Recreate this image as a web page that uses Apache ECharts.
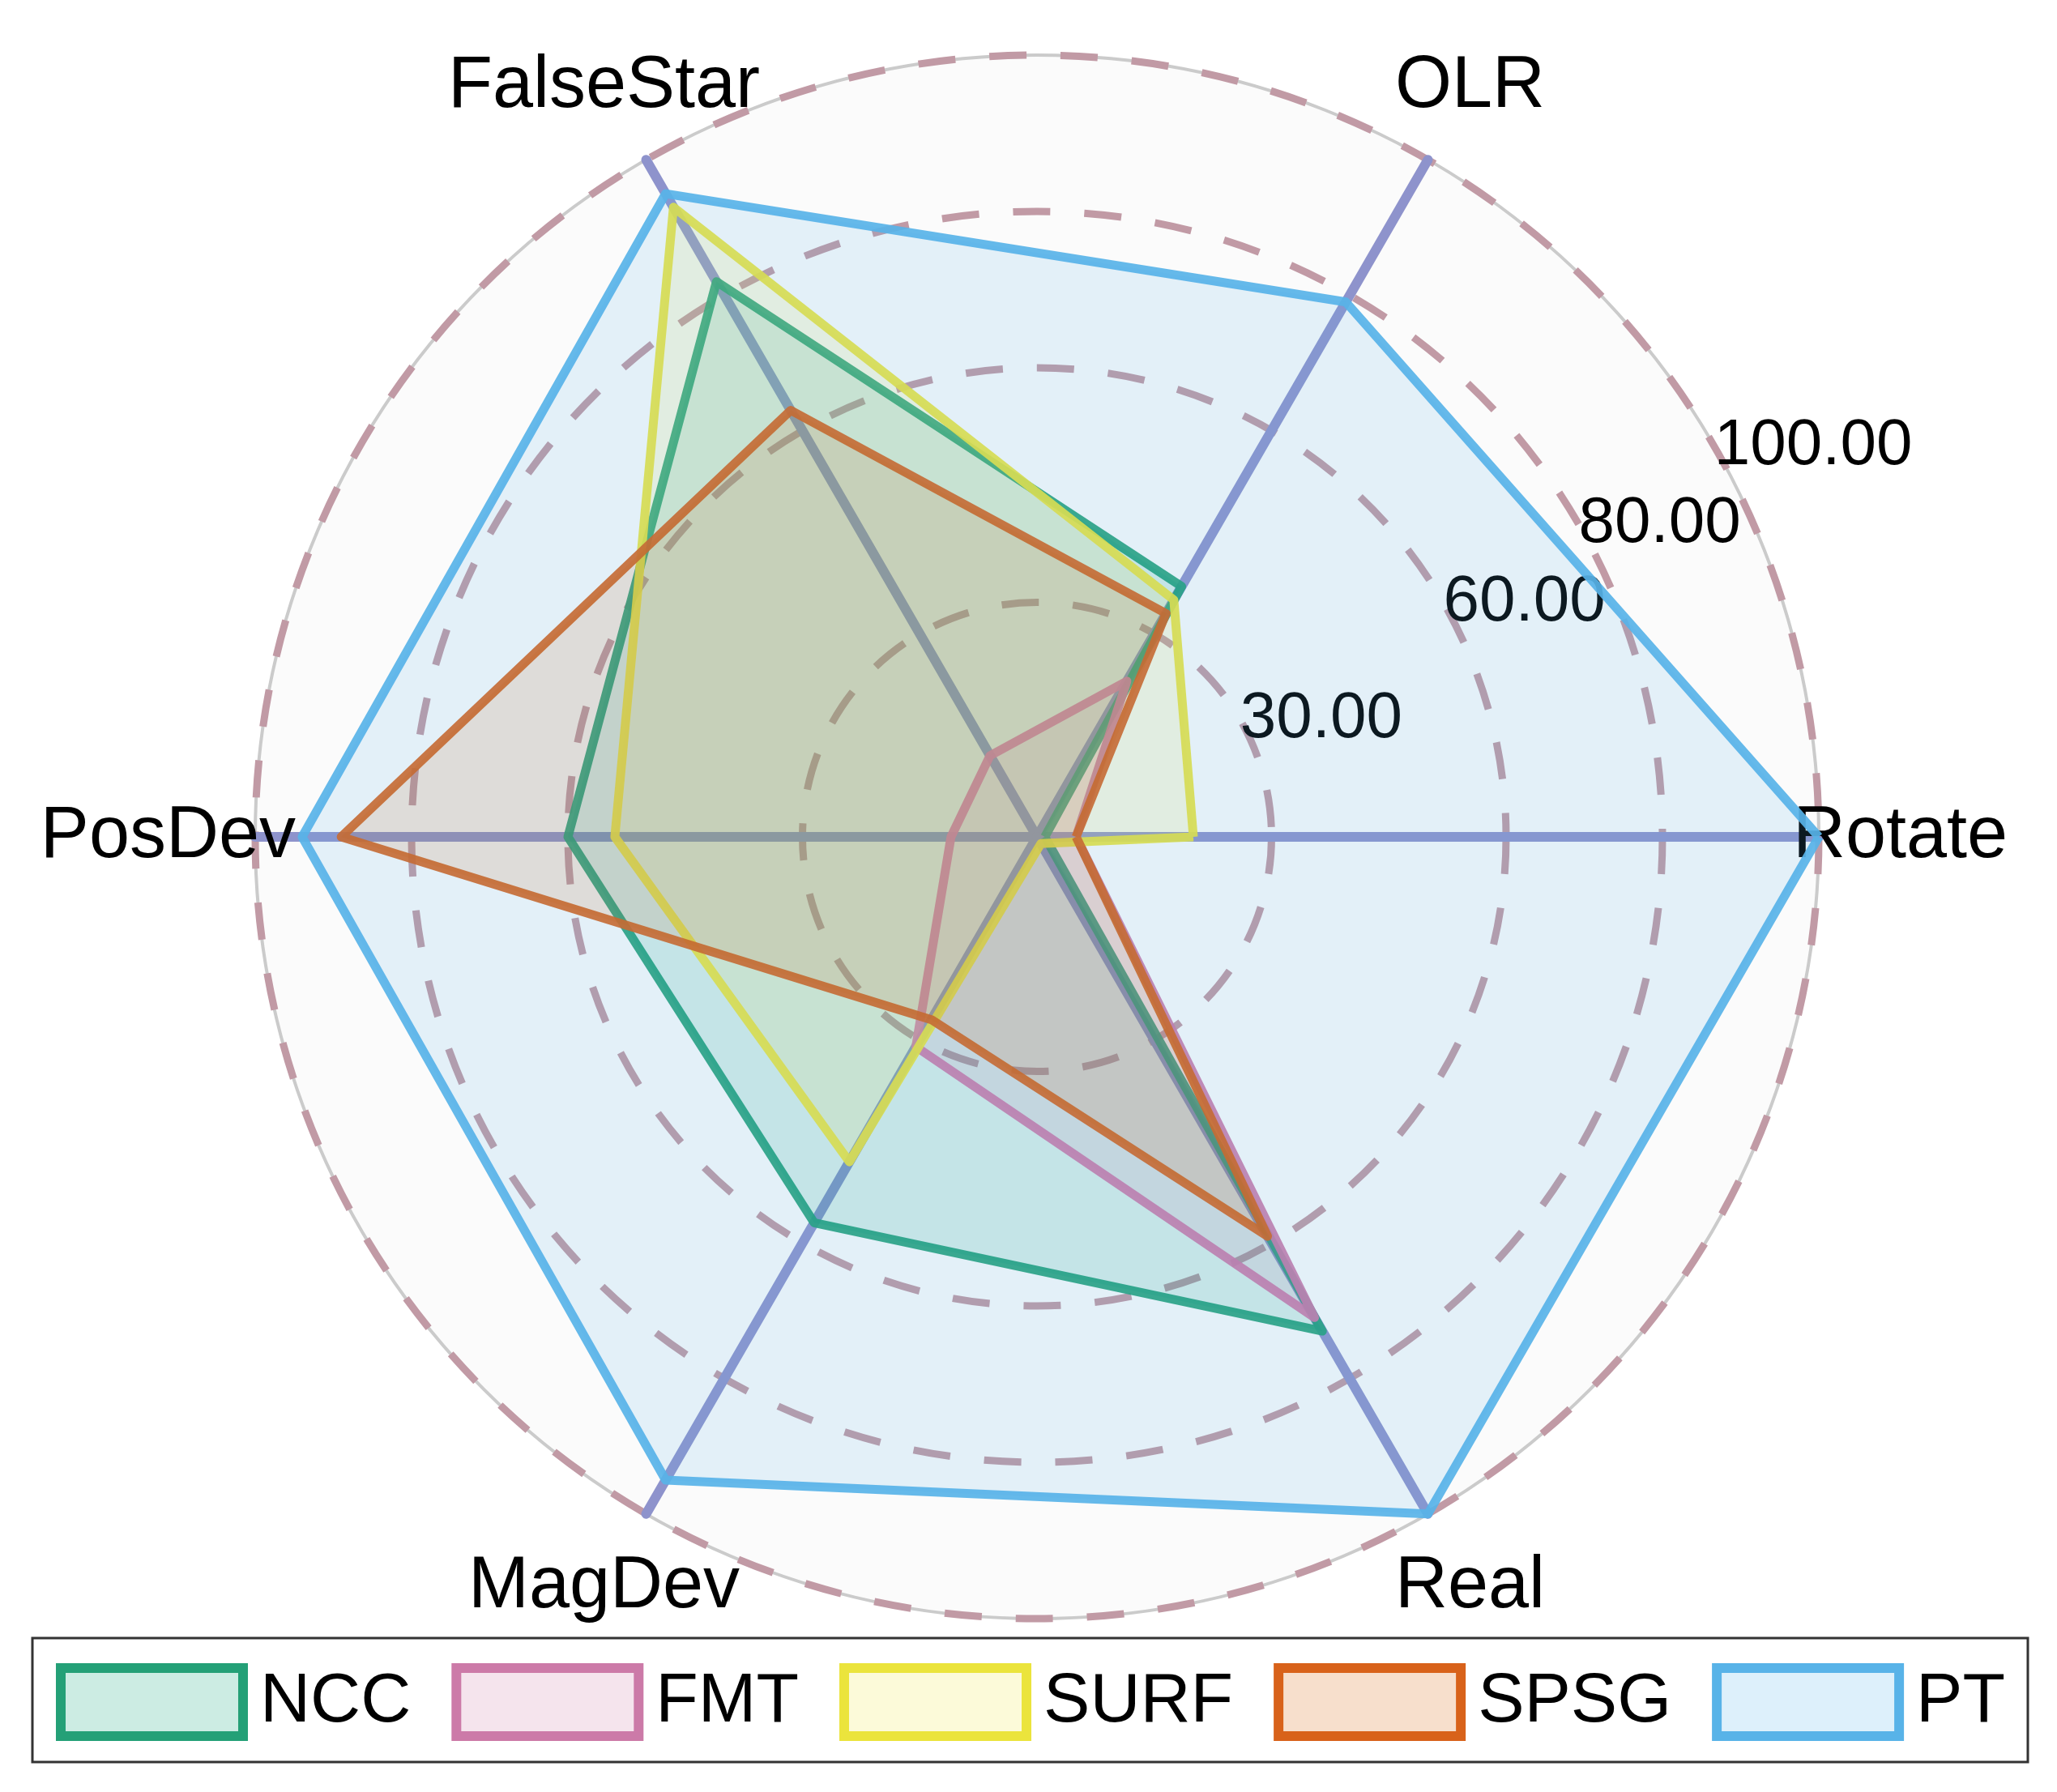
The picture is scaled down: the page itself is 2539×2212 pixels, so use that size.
<!DOCTYPE html>
<html>
<head>
<meta charset="utf-8">
<script src="https://cdn.jsdelivr.net/npm/echarts@6/dist/echarts.min.js"></script>
<style>
html,body{margin:0;padding:0;background:#fff;}
#chart{width:2539px;height:2212px;}
</style>
</head>
<body>
<div id="chart"></div>
<script>
// ---- data ----
const indicators = ['Rotate', 'OLR', 'FalseStar', 'PosDev', 'MagDev', 'Real'];
const seriesNames = ['NCC', 'FMT', 'SURF', 'SPSG', 'PT'];
const NCC  = [1, 37, 82, 60, 57, 73];
const FMT  = [5, 23, 12, 11, 31, 71];
const SURF = [20, 35, 93, 54, 48, 1];
const SPSG = [5, 33, 63, 89, 27, 59];
const PT   = [100, 79, 95, 94, 95, 100];
const tickLabels = [30, 60, 80, 100];
const axisMax = 100;

// ---- styles ----
const FONT = "'Liberation Sans', Arial, Helvetica, sans-serif";
const strokes = ['#24a077', '#cc7aa8', '#ebe43c', '#d8621a', '#58b3e8'];
const fills = ['rgba(0,158,115,0.2)', 'rgba(204,121,167,0.2)', 'rgba(240,228,66,0.2)', 'rgba(213,94,0,0.2)', 'rgba(86,180,233,0.2)'];
const values = [NCC, FMT, SURF, SPSG, PT];
const CENTER = [1280, 1033];
const RADIUS = 965;
const SPLITS = 10;

function ringColors(keep, color) {
  const arr = [];
  for (let i = 0; i <= SPLITS; i++) {
    const v = i * axisMax / SPLITS;
    arr.push(keep.indexOf(v) >= 0 ? color : 'rgba(0,0,0,0)');
  }
  return arr;
}

const chart = echarts.init(document.getElementById('chart'), null, {renderer: 'canvas'});

const option = {
  backgroundColor: '#ffffff',
  animation: false,
  textStyle: {fontFamily: FONT},
  legend: {
    left: 40,
    top: 2022,
    orient: 'horizontal',
    padding: [31, 28, 26, 29],
    borderColor: '#333333',
    borderWidth: 3,
    backgroundColor: '#ffffff',
    itemWidth: 225,
    itemHeight: 84,
    itemGap: 50,
    icon: 'rect',
    textStyle: {fontSize: 86, color: '#000', fontFamily: FONT, padding: [0, 0, 0, 16], lineHeight: 84},
    data: seriesNames.map((n, i) => ({
      name: n,
      icon: 'rect',
      itemStyle: {color: fills[i], borderColor: strokes[i], borderWidth: 12}
    }))
  },
  radar: [
    {
      center: CENTER,
      radius: RADIUS,
      startAngle: 0,
      shape: 'circle',
      splitNumber: SPLITS,
      indicator: indicators.map(n => ({name: (n === 'Rotate' || n === 'PosDev') ? n : '', min: 0, max: axisMax})),
      axisNameGap: -50,
      axisName: {
        color: '#000', fontSize: 90, fontFamily: FONT,
        formatter: function (name) { return name === 'Rotate' ? '{r|' + name + '}' : name; },
        rich: {r: {padding: [0, 0, 0, 18], fontSize: 90, color: '#000', fontFamily: FONT}}
      },
      axisLine: {show: true, lineStyle: {color: '#8e93cc', width: 12}},
      axisTick: {show: false},
      axisLabel: {show: false},
      splitLine: {show: true, lineStyle: {color: ringColors([100], '#cbcbcb'), width: 4, type: 'solid'}},
      splitArea: {show: true, areaStyle: {color: ['rgba(0,0,0,0.014)']}}
    },
    {
      center: CENTER,
      radius: RADIUS,
      startAngle: 0,
      shape: 'circle',
      splitNumber: SPLITS,
      indicator: indicators.map(n => ({name: (n === 'Rotate' || n === 'PosDev') ? '' : n, min: 0, max: axisMax})),
      axisNameGap: 104,
      axisName: {color: '#000', fontSize: 90, fontFamily: FONT, align: 'center', verticalAlign: 'middle'},
      axisLine: {show: false},
      axisTick: {show: false},
      axisLabel: {show: false},
      splitLine: {show: true, lineStyle: {color: ringColors(tickLabels, '#c19aa5'), width: 9, type: [46, 42]}},
      splitArea: {show: false}
    }
  ],
  polar: {center: CENTER, radius: RADIUS},
  angleAxis: {
    type: 'value', min: 0, max: 360, startAngle: 30, show: false
  },
  radiusAxis: {
    type: 'value', min: 0, max: axisMax, interval: 10,
    axisLine: {show: false}, axisTick: {show: false}, splitLine: {show: false},
    axisLabel: {
      show: true, margin: 0, align: 'left', verticalAlign: 'middle',
      fontSize: 80, color: '#000', fontFamily: FONT,
      formatter: function (v) { return tickLabels.indexOf(v) >= 0 ? v.toFixed(2) : ''; }
    }
  },
  series: seriesNames.map((n, i) => ({
    type: 'radar',
    name: n,
    radarIndex: 0,
    symbol: 'none',
    z: 2 + i,
    lineStyle: {color: strokes[i], width: 11, opacity: 0.92},
    itemStyle: {color: strokes[i]},
    areaStyle: {color: fills[i]},
    data: [{name: n, value: values[i]}]
  }))
};

chart.setOption(option);
</script>
</body>
</html>
